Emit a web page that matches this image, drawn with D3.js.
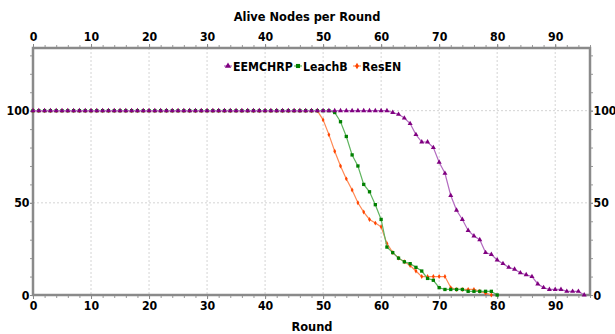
<!DOCTYPE html>
<html>
<head>
<meta charset="utf-8">
<script src="https://cdn.jsdelivr.net/npm/d3@7/dist/d3.min.js"></script>
<style>
  body { margin: 0; background: #fff; }
  svg text { font-family: "DejaVu Sans", sans-serif; font-weight: bold; fill: #000; }
</style>
</head>
<body>
<svg id="chart" width="615" height="334"></svg>
<script>
const seriesNames = ["EEMCHRP", "LeachB", "ResEN"];

// alive nodes, one value per round starting at round 0
const eemchrp = [
  100, 100, 100, 100, 100, 100, 100, 100, 100, 100,
  100, 100, 100, 100, 100, 100, 100, 100, 100, 100,
  100, 100, 100, 100, 100, 100, 100, 100, 100, 100,
  100, 100, 100, 100, 100, 100, 100, 100, 100, 100,
  100, 100, 100, 100, 100, 100, 100, 100, 100, 100,
  100, 100, 100, 100, 100, 100, 100, 100, 100, 100,
  100, 100, 99, 98, 96, 93, 87, 83, 83, 80,
  72, 66, 54, 46, 41, 35, 32, 30, 23, 22,
  19, 17, 15, 14, 12, 11, 10, 6, 4, 3,
  3, 3, 2, 2, 2, 0
];
const leachB = [
  100, 100, 100, 100, 100, 100, 100, 100, 100, 100,
  100, 100, 100, 100, 100, 100, 100, 100, 100, 100,
  100, 100, 100, 100, 100, 100, 100, 100, 100, 100,
  100, 100, 100, 100, 100, 100, 100, 100, 100, 100,
  100, 100, 100, 100, 100, 100, 100, 100, 100, 100,
  100, 100, 99, 94, 86, 76, 70, 60, 56, 49,
  41, 26, 23, 20, 18, 17, 15, 13, 9, 8,
  4, 3, 3, 3, 3, 2, 2, 2, 2, 2,
  0
];
const resEN = [
  100, 100, 100, 100, 100, 100, 100, 100, 100, 100,
  100, 100, 100, 100, 100, 100, 100, 100, 100, 100,
  100, 100, 100, 100, 100, 100, 100, 100, 100, 100,
  100, 100, 100, 100, 100, 100, 100, 100, 100, 100,
  100, 100, 100, 100, 100, 100, 100, 100, 100, 100,
  95, 87, 78, 70, 63, 57, 50, 45, 41, 39,
  37, 28, 23, 20, 18, 16, 13, 10, 10, 10,
  10, 10, 4, 3, 3, 3, 3, 2, 1, 0
];

const xTicks = [0, 10, 20, 30, 40, 50, 60, 70, 80, 90];
const yTicks = [0, 50, 100];

const markerColors = ["#800080", "#008000", "#ff4500"];
const lineColors = ["#b36bc0", "#5fb45f", "#ff8a55"];
const symbols = [d3.symbolTriangle, d3.symbolSquare, d3.symbolDiamond];
const symbolSizes = [11, 11, 7];

const plotLeft = 33, plotRight = 590, plotTop = 48, plotBottom = 295;
const squeeze = "scale(0.88,1)";

const x = d3.scaleLinear().domain([0, 96]).range([plotLeft, plotRight]);
const y = d3.scaleLinear().domain([0, 134]).range([plotBottom, plotTop]);

const svg = d3.select("#chart");

// grid
svg.append("g")
  .selectAll("line")
  .data(xTicks.filter((d) => d > 0))
  .join("line")
  .attr("x1", (d) => x(d)).attr("x2", (d) => x(d))
  .attr("y1", plotTop).attr("y2", plotBottom)
  .attr("stroke", "#d4d4d4").attr("stroke-dasharray", "2,2");

svg.append("g")
  .selectAll("line")
  .data(yTicks.filter((d) => d > 0))
  .join("line")
  .attr("x1", plotLeft).attr("x2", plotRight)
  .attr("y1", (d) => y(d)).attr("y2", (d) => y(d))
  .attr("stroke", "#d4d4d4").attr("stroke-dasharray", "2,2");

// axes
const styleAxis = (g) => {
  g.select(".domain").remove();
  g.selectAll(".tick line").attr("stroke", "#888");
  g.selectAll(".tick text").attr("font-size", 12.5).attr("fill", "#000")
    .attr("transform", squeeze)
    .style("font-family", "'DejaVu Sans', sans-serif")
    .style("font-weight", "bold");
};
const minorX = d3.range(0, 97, 2);
const minorY = d3.range(0, 134, 10);

const addMinor = (axisFn, scale, ticks, transform) => {
  svg.append("g").attr("transform", transform)
    .call(axisFn(scale).tickValues(ticks).tickSize(3).tickFormat(""))
    .call((g) => { g.select(".domain").remove(); g.selectAll(".tick line").attr("stroke", "#999"); });
};
addMinor(d3.axisTop, x, minorX, `translate(0,${plotTop})`);
addMinor(d3.axisBottom, x, minorX, `translate(0,${plotBottom})`);
addMinor(d3.axisLeft, y, minorY, `translate(${plotLeft},0)`);
addMinor(d3.axisRight, y, minorY, `translate(${plotRight},0)`);

svg.append("g").attr("transform", `translate(0,${plotTop})`)
  .call(d3.axisTop(x).tickValues(xTicks).tickSize(4).tickPadding(3)).call(styleAxis);
svg.append("g").attr("transform", `translate(0,${plotBottom})`)
  .call(d3.axisBottom(x).tickValues(xTicks).tickSize(4).tickPadding(2)).call(styleAxis);
svg.append("g").attr("transform", `translate(${plotLeft},0)`)
  .call(d3.axisLeft(y).tickValues(yTicks).tickSize(3).tickPadding(1)).call(styleAxis);
svg.append("g").attr("transform", `translate(${plotRight},0)`)
  .call(d3.axisRight(y).tickValues(yTicks).tickSize(3).tickPadding(1)).call(styleAxis);

// frame
svg.append("rect")
  .attr("x", plotLeft).attr("y", plotTop)
  .attr("width", plotRight - plotLeft).attr("height", plotBottom - plotTop)
  .attr("fill", "none").attr("stroke", "#8a8a8a").attr("stroke-width", 2.5);

// titles
svg.append("g").attr("transform", "translate(307,21)")
  .append("text").attr("text-anchor", "middle").attr("transform", squeeze)
  .attr("font-size", 13).text("Alive Nodes per Round");
svg.append("g").attr("transform", "translate(312,331)")
  .append("text").attr("text-anchor", "middle").attr("transform", squeeze)
  .attr("font-size", 13).text("Round");

// series, drawn ResEN first so EEMCHRP sits on top
const allSeries = [eemchrp, leachB, resEN];
const line = d3.line().x((d, i) => x(i)).y((d) => y(d));

[2, 1, 0].forEach((s) => {
  const values = allSeries[s];
  svg.append("path")
    .datum(values)
    .attr("fill", "none")
    .attr("stroke", lineColors[s])
    .attr("stroke-width", 1.2)
    .attr("d", line);
  svg.append("g")
    .selectAll("path")
    .data(values)
    .join("path")
    .attr("transform", (d, i) => `translate(${x(i)},${y(d)})`)
    .attr("d", d3.symbol().type(symbols[s]).size(symbolSizes[s]))
    .attr("fill", markerColors[s]);
});

// legend
const legendX = [228, 298, 357];
const legend = svg.append("g").selectAll("g")
  .data(seriesNames)
  .join("g")
  .attr("transform", (d, i) => `translate(${legendX[i]},66)`);
legend.append("line")
  .attr("x1", -4).attr("x2", 4)
  .attr("stroke", (d, i) => lineColors[i]).attr("stroke-width", 1.2);
legend.append("path")
  .attr("d", (d, i) => d3.symbol().type(symbols[i]).size(symbolSizes[i] + 6)())
  .attr("fill", (d, i) => markerColors[i]);
legend.append("g")
  .attr("transform", "translate(5,4.5)")
  .append("text")
  .attr("transform", squeeze)
  .attr("font-size", 12.5)
  .text((d) => d);
</script>
</body>
</html>
